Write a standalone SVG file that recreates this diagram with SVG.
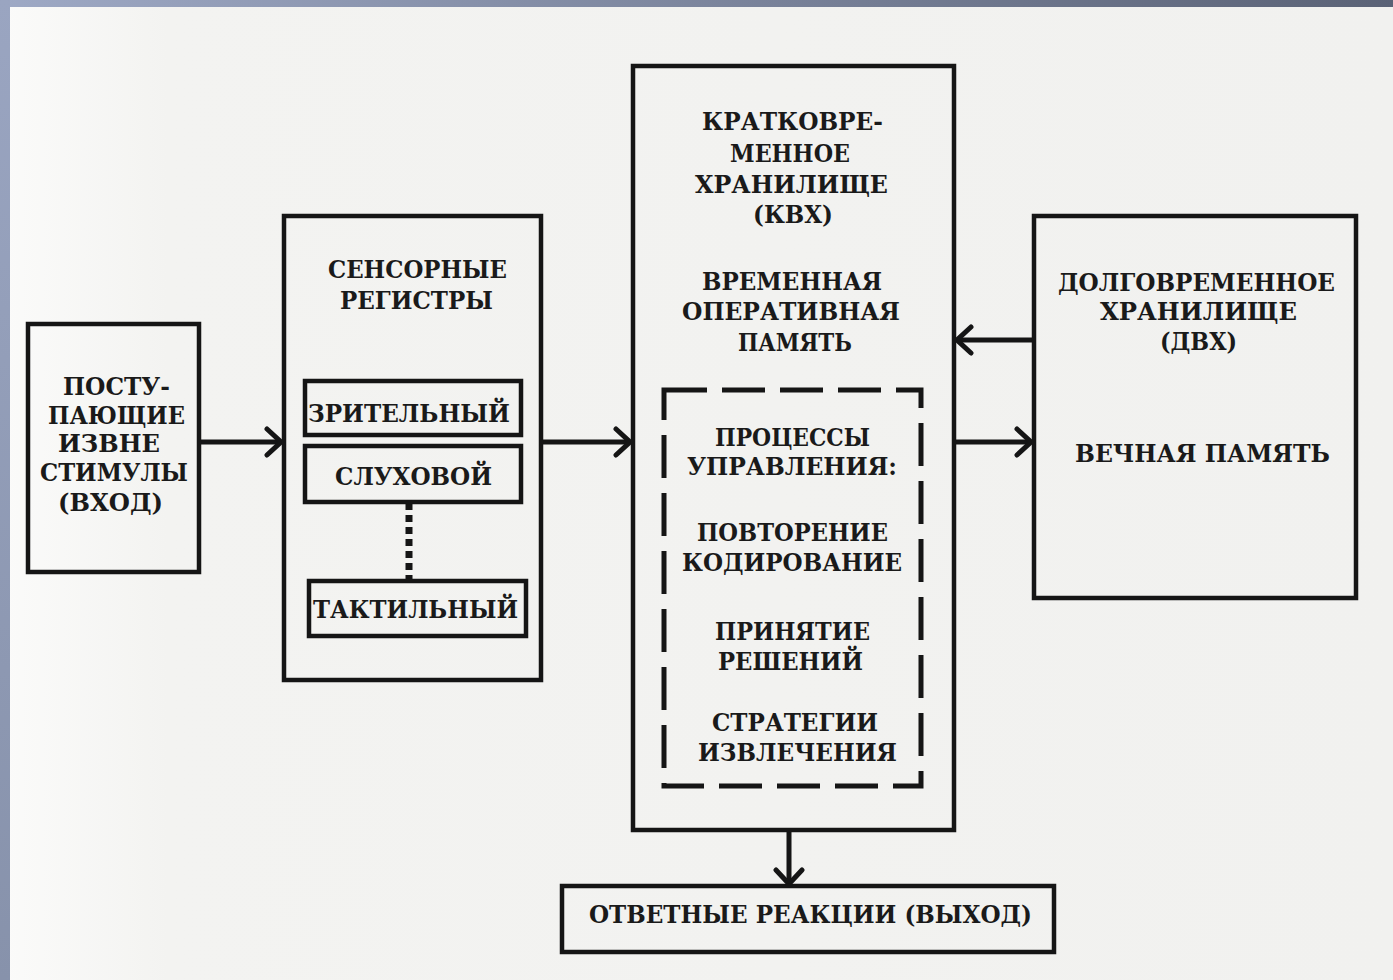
<svg xmlns="http://www.w3.org/2000/svg" width="1393" height="980" viewBox="0 0 1393 980">
  <defs>
    <linearGradient id="topbar" x1="0" y1="0" x2="1" y2="0">
      <stop offset="0" stop-color="#9ea9c5"/>
      <stop offset="1" stop-color="#5a6276"/>
    </linearGradient>
    <linearGradient id="leftbar" x1="0" y1="0" x2="0" y2="1">
      <stop offset="0" stop-color="#9aa5c1"/>
      <stop offset="1" stop-color="#8792ab"/>
    </linearGradient>
    <linearGradient id="paper" x1="0" y1="0" x2="1" y2="0">
      <stop offset="0" stop-color="#fbfbfa"/>
      <stop offset="0.12" stop-color="#f3f3f1"/>
      <stop offset="1" stop-color="#f1f1ef"/>
    </linearGradient>
    <marker id="chev" viewBox="0 0 20 32" markerUnits="userSpaceOnUse" markerWidth="20" markerHeight="32" refX="17" refY="16" orient="auto">
      <path d="M3,3 L17,16 L3,29" fill="none" stroke="#151515" stroke-width="5" stroke-linecap="round" stroke-linejoin="miter"/>
    </marker>
  </defs>
  <style>
    .box { fill: none; stroke: #151515; stroke-width: 4.5; }
    .dash { fill: none; stroke: #151515; stroke-width: 5; stroke-dasharray: 43 15; }
    .conn { fill: none; stroke: #151515; stroke-width: 5; }
    .t { font-family: "DejaVu Serif", "Liberation Serif", serif; font-weight: bold; font-size: 25px; fill: #1a1a1a; }
  </style>

  <rect x="0" y="0" width="1393" height="980" fill="url(#paper)"/>
  <rect x="0" y="0" width="1393" height="7" fill="url(#topbar)"/>
  <rect x="0" y="0" width="10" height="980" fill="url(#leftbar)"/>

  <g id="connectors">
    <line class="conn" x1="200" y1="442" x2="281" y2="442" marker-end="url(#chev)"/>
    <line class="conn" x1="542" y1="442" x2="630" y2="442" marker-end="url(#chev)"/>
    <line class="conn" x1="1033" y1="340" x2="957" y2="340" marker-end="url(#chev)"/>
    <line class="conn" x1="955" y1="442" x2="1031" y2="442" marker-end="url(#chev)"/>
    <line class="conn" x1="789" y1="830" x2="789" y2="884" marker-end="url(#chev)"/>
    <line x1="409" y1="503" x2="409" y2="579" stroke="#151515" stroke-width="7" stroke-dasharray="7 5"/>
  </g>

  <g id="input">
    <rect class="box" x="28" y="324" width="171" height="248"/>
    <text class="t" x="63" y="395" textLength="107" lengthAdjust="spacingAndGlyphs">ПОСТУ-</text>
    <text class="t" x="48" y="424" textLength="137" lengthAdjust="spacingAndGlyphs">ПАЮЩИЕ</text>
    <text class="t" x="58" y="452" textLength="102" lengthAdjust="spacingAndGlyphs">ИЗВНЕ</text>
    <text class="t" x="40" y="481" textLength="148" lengthAdjust="spacingAndGlyphs">СТИМУЛЫ</text>
    <text class="t" x="58" y="511" textLength="105" lengthAdjust="spacingAndGlyphs">(ВХОД)</text>
  </g>

  <g id="sensory">
    <rect class="box" x="284" y="216" width="257" height="464"/>
    <text class="t" x="328" y="278" textLength="179" lengthAdjust="spacingAndGlyphs">СЕНСОРНЫЕ</text>
    <text class="t" x="340" y="309" textLength="153" lengthAdjust="spacingAndGlyphs">РЕГИСТРЫ</text>
  </g>

  <g id="visual">
    <rect class="box" x="305" y="381" width="216" height="54"/>
    <text class="t" x="308" y="422" textLength="202" lengthAdjust="spacingAndGlyphs">ЗРИТЕЛЬНЫЙ</text>
  </g>

  <g id="auditory">
    <rect class="box" x="305" y="446" width="216" height="56"/>
    <text class="t" x="335" y="485" textLength="157" lengthAdjust="spacingAndGlyphs">СЛУХОВОЙ</text>
  </g>

  <g id="tactile">
    <rect class="box" x="309" y="581" width="217" height="55"/>
    <text class="t" x="313" y="618" textLength="205" lengthAdjust="spacingAndGlyphs">ТАКТИЛЬНЫЙ</text>
  </g>

  <g id="stm">
    <rect class="box" x="633" y="66" width="321" height="764"/>
    <text class="t" x="702" y="130" textLength="181" lengthAdjust="spacingAndGlyphs">КРАТКОВРЕ-</text>
    <text class="t" x="730" y="162" textLength="120" lengthAdjust="spacingAndGlyphs">МЕННОЕ</text>
    <text class="t" x="695" y="193" textLength="193" lengthAdjust="spacingAndGlyphs">ХРАНИЛИЩЕ</text>
    <text class="t" x="753" y="223" textLength="80" lengthAdjust="spacingAndGlyphs">(КВХ)</text>
    <text class="t" x="702" y="290" textLength="180" lengthAdjust="spacingAndGlyphs">ВРЕМЕННАЯ</text>
    <text class="t" x="682" y="320" textLength="218" lengthAdjust="spacingAndGlyphs">ОПЕРАТИВНАЯ</text>
    <text class="t" x="738" y="351" textLength="114" lengthAdjust="spacingAndGlyphs">ПАМЯТЬ</text>
  </g>

  <g id="control">
    <rect class="dash" x="664" y="390" width="257" height="396"/>
    <text class="t" x="715" y="446" textLength="155" lengthAdjust="spacingAndGlyphs">ПРОЦЕССЫ</text>
    <text class="t" x="687" y="475" textLength="210" lengthAdjust="spacingAndGlyphs">УПРАВЛЕНИЯ:</text>
    <text class="t" x="697" y="541" textLength="191" lengthAdjust="spacingAndGlyphs">ПОВТОРЕНИЕ</text>
    <text class="t" x="682" y="571" textLength="220" lengthAdjust="spacingAndGlyphs">КОДИРОВАНИЕ</text>
    <text class="t" x="715" y="640" textLength="155" lengthAdjust="spacingAndGlyphs">ПРИНЯТИЕ</text>
    <text class="t" x="718" y="670" textLength="145" lengthAdjust="spacingAndGlyphs">РЕШЕНИЙ</text>
    <text class="t" x="712" y="731" textLength="166" lengthAdjust="spacingAndGlyphs">СТРАТЕГИИ</text>
    <text class="t" x="698" y="761" textLength="199" lengthAdjust="spacingAndGlyphs">ИЗВЛЕЧЕНИЯ</text>
  </g>

  <g id="ltm">
    <rect class="box" x="1034" y="216" width="322" height="382"/>
    <text class="t" x="1058" y="291" textLength="277" lengthAdjust="spacingAndGlyphs">ДОЛГОВРЕМЕННОЕ</text>
    <text class="t" x="1100" y="320" textLength="197" lengthAdjust="spacingAndGlyphs">ХРАНИЛИЩЕ</text>
    <text class="t" x="1160" y="350" textLength="77" lengthAdjust="spacingAndGlyphs">(ДВХ)</text>
    <text class="t" x="1075" y="462" textLength="255" lengthAdjust="spacingAndGlyphs">ВЕЧНАЯ ПАМЯТЬ</text>
  </g>

  <g id="output">
    <rect class="box" x="562" y="886" width="492" height="66"/>
    <text class="t" x="589" y="923" textLength="443" lengthAdjust="spacingAndGlyphs">ОТВЕТНЫЕ РЕАКЦИИ (ВЫХОД)</text>
  </g>
</svg>
